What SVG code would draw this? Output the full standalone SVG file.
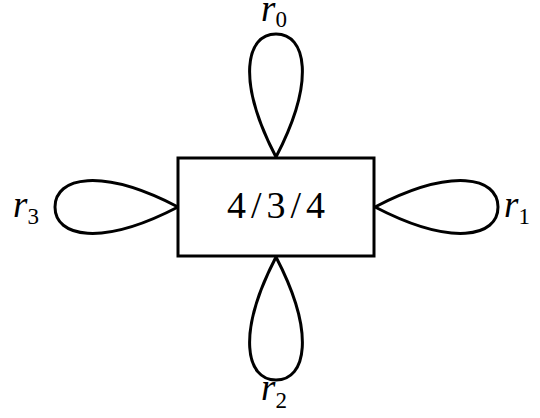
<svg xmlns="http://www.w3.org/2000/svg" width="540" height="418" viewBox="0 0 540 418">
<style>
.ln{fill:none;stroke:#000;stroke-width:3;stroke-linejoin:miter}
.box{fill:#fff;stroke:#000;stroke-width:3}
</style>
<rect width="540" height="418" fill="#fff"/>
<g id="connectors">
<path class="ln" d="M276,157 C236,80 246,34 276,34 C306,34 316,80 276,157"/>
<path class="ln" d="M276,257 C236,334 246,380 276,380 C306,380 316,334 276,257"/>
<path class="ln" d="M375,207 C452,167 498,177 498,207 C498,237 452,247 375,207"/>
<path class="ln" d="M178,207 C101,167 55,177 55,207 C55,237 101,247 178,207"/>
</g>
<g id="node">
<rect class="box" x="178" y="158" width="196" height="98"/>
<text x="276" y="218" font-family="Liberation Serif, DejaVu Serif, serif" font-size="38" text-anchor="middle" textLength="98" lengthAdjust="spacing">4/3/4</text>
</g>
<g id="r0"><text x="261" y="21" font-family="Liberation Serif, DejaVu Serif, serif" font-size="37"><tspan font-style="italic">r</tspan><tspan font-size="23" dy="6">0</tspan></text></g>
<g id="r1"><text x="504" y="217" font-family="Liberation Serif, DejaVu Serif, serif" font-size="37"><tspan font-style="italic">r</tspan><tspan font-size="23" dy="7">1</tspan></text></g>
<g id="r2"><text x="261" y="400" font-family="Liberation Serif, DejaVu Serif, serif" font-size="37"><tspan font-style="italic">r</tspan><tspan font-size="23" dy="8">2</tspan></text></g>
<g id="r3"><text x="13" y="217" font-family="Liberation Serif, DejaVu Serif, serif" font-size="37"><tspan font-style="italic">r</tspan><tspan font-size="23" dy="7">3</tspan></text></g>
</svg>
